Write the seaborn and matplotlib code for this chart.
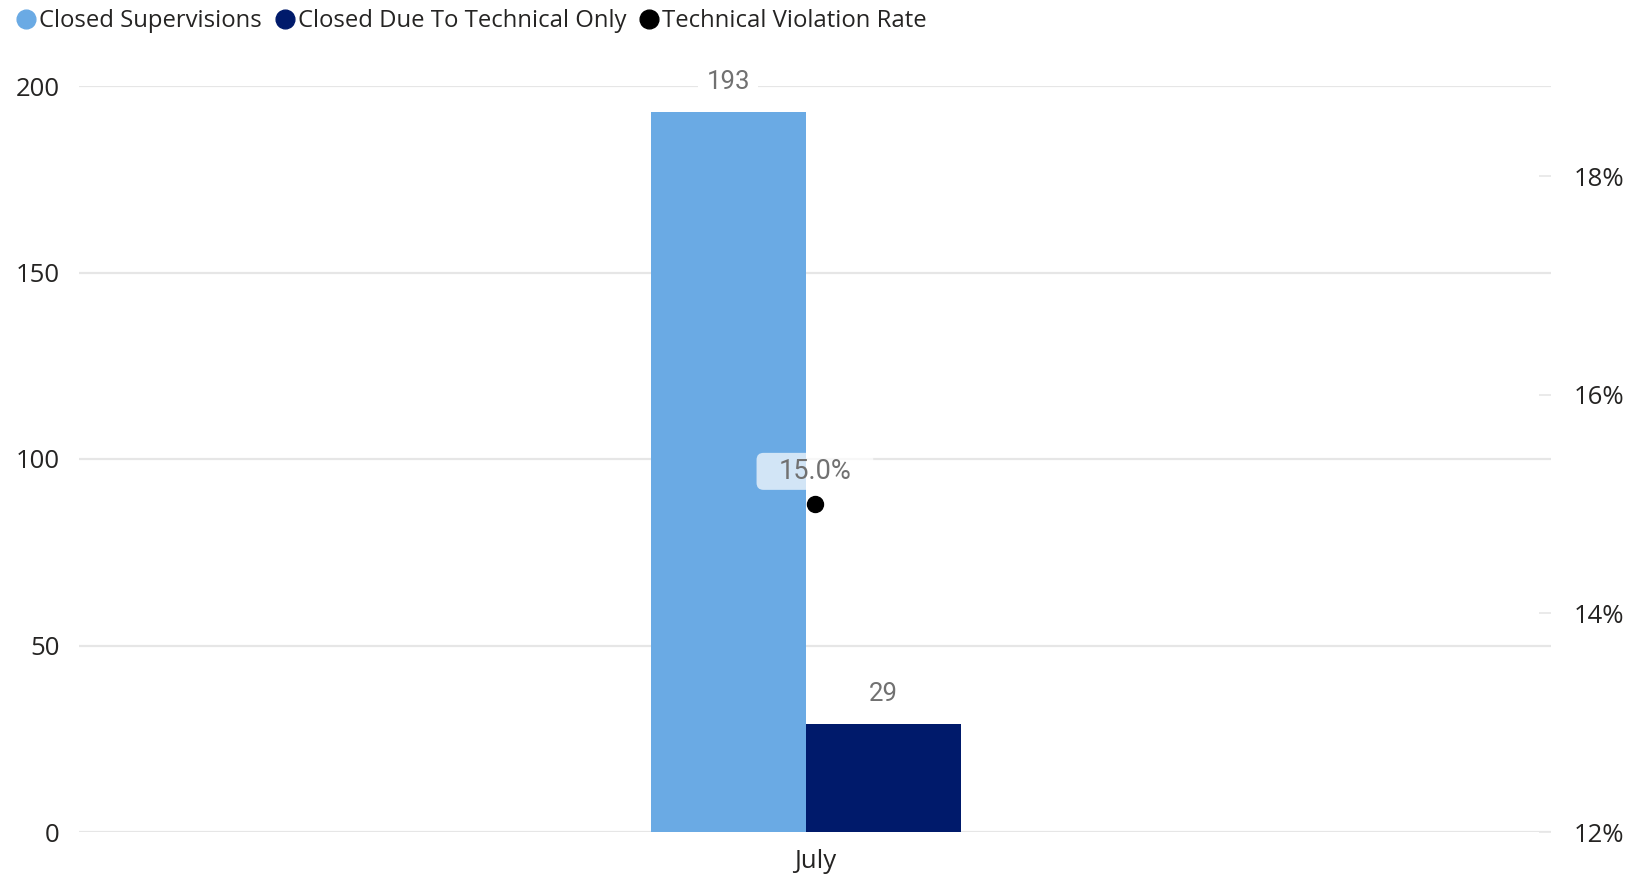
import matplotlib
matplotlib.use("Agg")
import matplotlib.pyplot as plt
import matplotlib.transforms as mtransforms
from matplotlib.lines import Line2D
from matplotlib.path import Path
import seaborn as sns
import pandas as pd

# ---- data ----
months = ["July"]
closed_supervisions = [193]
closed_technical_only = [29]
technical_violation_rate = [15.0]  # percent
series_names = ["Closed Supervisions", "Closed Due To Technical Only"]
rate_name = "Technical Violation Rate"
left_ticks = [0, 50, 100, 150, 200]
right_ticks = [12, 14, 16, 18]

# ---- style ----
C_LIGHT = "#6AAAE4"
C_DARK = "#001A6B"
GRID = "#E6E6E6"
TXT = "#252423"
LBL = "#717171"

sns.set_theme(style="white")
plt.rcParams["font.family"] = ["Open Sans", "DejaVu Sans"]

df = pd.DataFrame({
    "Month": months * 2,
    "Series": [series_names[0]] * len(months) + [series_names[1]] * len(months),
    "Value": closed_supervisions + closed_technical_only,
})

fig = plt.figure(figsize=(16.29, 8.75), dpi=100)
ax = fig.add_axes([79 / 1629, 1 - 832 / 875, (1551 - 79) / 1629, (832 - 86) / 875])

sns.barplot(data=df, x="Month", y="Value", hue="Series",
            palette=[C_LIGHT, C_DARK], width=0.8, saturation=1,
            ax=ax, legend=False, zorder=2, linewidth=0)

ax.set_xlim(-1.876, 1.923)
ax.set_ylim(0, 200)
ax.set_yticks(left_ticks)
ax.yaxis.grid(True, color=GRID, linewidth=1.6, zorder=0)
ax.set_axisbelow(True)
for s in ax.spines.values():
    s.set_visible(False)
ax.set_xlabel("")
ax.set_ylabel("")
ax.tick_params(axis="y", length=0, pad=14, labelsize=18.5, labelcolor=TXT)
ax.tick_params(axis="x", length=0, pad=12, labelsize=18.5, labelcolor=TXT)

# category centre sits slightly right of the bar group centre (as in reference)
shift = mtransforms.ScaledTranslation(9 / 100, 0, fig.dpi_scale_trans)
for lab in ax.get_xticklabels():
    lab.set_transform(lab.get_transform() + shift)

for cont in ax.containers:
    ax.bar_label(cont, fmt="%d", padding=13, fontsize=18.5, color=LBL,
                 family=["Roboto", "DejaVu Sans"],
                 bbox=dict(facecolor="white", edgecolor="none", pad=6))

# ---- secondary axis ----
ax2 = ax.twinx()
top = 12 + (832 - 86) / (656 / 6)
ax2.set_ylim(12, top)
ax2.set_yticks(right_ticks)
ax2.set_yticklabels([f"{t}%" for t in right_ticks])
for s in ax2.spines.values():
    s.set_visible(False)
ax2.tick_params(axis="y", direction="in", length=8.5, width=1.2, color=GRID,
                pad=16, labelsize=18.5, labelcolor=TXT)
ax2.plot(range(len(months)), technical_violation_rate, linestyle="none",
         marker="o", markersize=11.5, color="black", zorder=5,
         transform=ax2.transData + shift)


def pill(x0, y0, width, height, mutation_size, padx=22, pady=5, r=7):
    x0 -= padx
    y0 -= pady
    x1 = x0 + width + 2 * padx
    y1 = y0 + height + 2 * pady
    verts = [(x0 + r, y0), (x1 - r, y0), (x1, y0), (x1, y0 + r),
             (x1, y1 - r), (x1, y1), (x1 - r, y1), (x0 + r, y1),
             (x0, y1), (x0, y1 - r), (x0, y0 + r), (x0, y0), (x0 + r, y0)]
    codes = [Path.MOVETO, Path.LINETO, Path.CURVE3, Path.CURVE3,
             Path.LINETO, Path.CURVE3, Path.CURVE3, Path.LINETO,
             Path.CURVE3, Path.CURVE3, Path.LINETO, Path.CURVE3, Path.CURVE3]
    return Path(verts, codes)


for i, v in enumerate(technical_violation_rate):
    ax2.annotate(f"{v:.1f}%", (i, v), xytext=(6.5, 23.5), textcoords="offset points",
                 ha="center", va="center", fontsize=19.5, color=LBL,
                 family=["Roboto", "DejaVu Sans"], zorder=6,
                 bbox=dict(boxstyle=pill, facecolor="white", alpha=0.7,
                           edgecolor="none"))

# ---- legend ----
handles = [
    Line2D([], [], linestyle="none", marker="o", markersize=13.5, color=C_LIGHT),
    Line2D([], [], linestyle="none", marker="o", markersize=13.5, color=C_DARK),
    Line2D([], [], linestyle="none", marker="o", markersize=13.5, color="black"),
]
fig.legend(handles, series_names + [rate_name], loc="upper left",
           bbox_to_anchor=(-0.006, 1.014), ncol=3, frameon=False,
           fontsize=17.2, handletextpad=-0.05, columnspacing=0.35,
           labelcolor=TXT, handlelength=1.2)

fig.savefig("out.png", dpi=100)
